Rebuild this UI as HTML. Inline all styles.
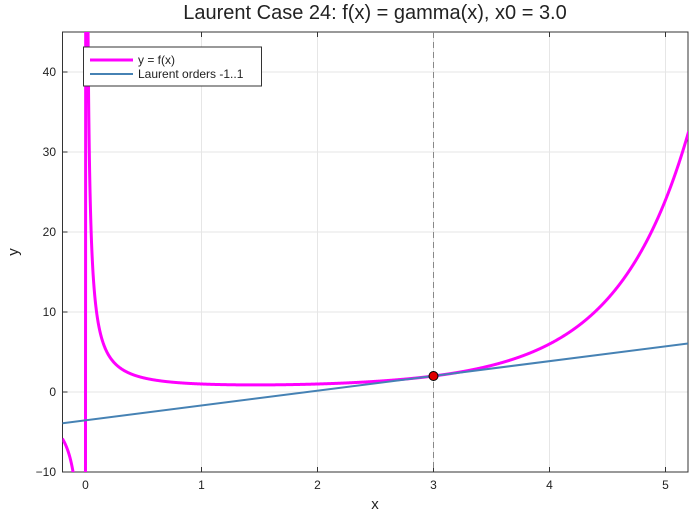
<!DOCTYPE html>
<html><head><meta charset="utf-8"><style>
html,body{margin:0;padding:0;background:#fff;overflow:hidden;width:700px;height:520px;font-family:"Liberation Sans","DejaVu Sans",sans-serif}
svg{display:block}
</style></head><body>
<svg id="s" width="700" height="520" xmlns="http://www.w3.org/2000/svg" font-family="Liberation Sans, DejaVu Sans, sans-serif">
<rect width="700" height="520" fill="#fff"/>
<defs><clipPath id="c"><rect x="62.5" y="32" width="625.5" height="440"/></clipPath></defs>
<g stroke="#e6e6e6" stroke-width="1">
<line x1="85.5" y1="32" x2="85.5" y2="472"/><line x1="201.5" y1="32" x2="201.5" y2="472"/>
<line x1="317.5" y1="32" x2="317.5" y2="472"/><line x1="433.5" y1="32" x2="433.5" y2="472"/>
<line x1="549.5" y1="32" x2="549.5" y2="472"/><line x1="665.5" y1="32" x2="665.5" y2="472"/>
<line x1="62.5" y1="72" x2="688" y2="72"/><line x1="62.5" y1="152" x2="688" y2="152"/>
<line x1="62.5" y1="232" x2="688" y2="232"/><line x1="62.5" y1="312" x2="688" y2="312"/>
<line x1="62.5" y1="392" x2="688" y2="392"/>
</g>
<rect x="62.5" y="32" width="625.5" height="440" fill="none" stroke="#333" stroke-width="1"/>
<g stroke="#333"><path d="M85.5 472v-5M201.5 472v-5M317.5 472v-5M433.5 472v-5M549.5 472v-5M665.5 472v-5M85.5 32v5M201.5 32v5M317.5 32v5M433.5 32v5M549.5 32v5M665.5 32v5M62.5 72h5M62.5 152h5M62.5 232h5M62.5 312h5M62.5 392h5M62.5 472h5"/></g>
<line x1="433.5" y1="32" x2="433.5" y2="472" stroke="#888" stroke-dasharray="6,4"/>
<g clip-path="url(#c)">
<path id="g" fill="none" stroke="#ff00ff" stroke-width="3"/>
<line x1="62.5" y1="423.2" x2="688" y2="343.5" stroke="#4682b4" stroke-width="2"/>
</g>
<circle cx="433.5" cy="376" r="4.5" fill="#e00000" stroke="#000" stroke-width="1"/>
<g font-size="12" fill="#222" text-anchor="middle">
<text x="85.5" y="489">0</text><text x="201.5" y="489">1</text><text x="317.5" y="489">2</text>
<text x="433.5" y="489">3</text><text x="549.5" y="489">4</text><text x="665.5" y="489">5</text>
</g>
<g font-size="12" fill="#222" text-anchor="end">
<text x="56" y="76">40</text><text x="56" y="156">30</text><text x="56" y="236">20</text>
<text x="56" y="316">10</text><text x="56" y="396">0</text><text x="56" y="476">−10</text>
</g>
<text x="375" y="509" font-size="15" text-anchor="middle" fill="#222">x</text>
<text x="18" y="252" font-size="15" text-anchor="middle" fill="#222" transform="rotate(-90 18 252)">y</text>
<text x="375" y="19" font-size="20" text-anchor="middle" fill="#222">Laurent Case 24: f(x) = gamma(x), x0 = 3.0</text>
<rect x="83.5" y="47" width="178" height="39" fill="#fff" stroke="#333"/>
<line x1="90" y1="60" x2="133" y2="60" stroke="#ff00ff" stroke-width="3"/>
<line x1="90" y1="74" x2="133" y2="74" stroke="#4682b4" stroke-width="2"/>
<text x="138" y="64" font-size="12" fill="#222">y = f(x)</text>
<text x="138" y="78" font-size="12" fill="#222">Laurent orders -1..1</text>
</svg>
<script>
function G(z){if(z<0.5)return Math.PI/(Math.sin(Math.PI*z)*G(1-z));z-=1;var g=7,p=[0.99999999999980993,676.5203681218851,-1259.1392167224028,771.32342877765313,-176.61502916214059,12.507343278686905,-0.13857109526572012,9.9843695780195716e-6,1.5056327351493116e-7];var x=p[0];for(var i=1;i<9;i++)x+=p[i]/(z+i);var t=z+g+0.5;return Math.sqrt(2*Math.PI)*Math.pow(t,z+0.5)*Math.exp(-t)*x;}
var d="",n=3000;for(var i=0;i<=n;i++){var x=-0.2+5.4*i/n;var y=G(x);if(!isFinite(y))continue;y=Math.max(-12,Math.min(47,y));d+=(d?"L":"M")+(85.5+116*x).toFixed(2)+" "+(392-8*y).toFixed(2);}
document.getElementById("g").setAttribute("d",d);
</script>
</body></html>
